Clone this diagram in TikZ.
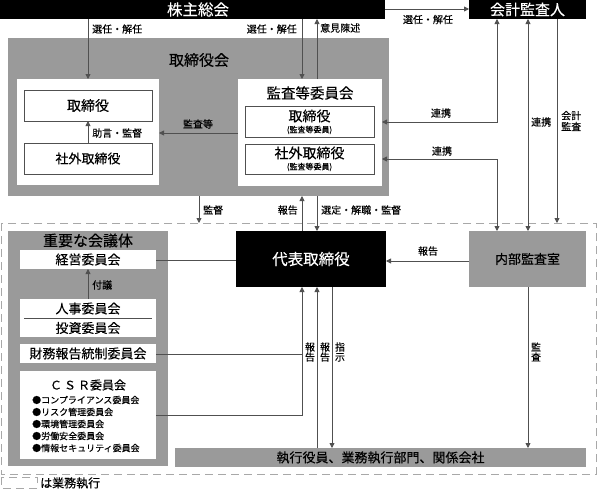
\documentclass[tikz,border=0pt]{standalone}
\usepackage{fontspec}
\setmainfont{Noto Sans CJK JP}[FakeBold=0.25]
\usetikzlibrary{arrows.meta}
\definecolor{gr}{HTML}{9A9A9A}
\definecolor{ln}{HTML}{505050}
\definecolor{dsh}{HTML}{A8A8A8}
\newcommand{\fs}[1]{\fontsize{#1}{#1}\selectfont}
\begin{document}
\begin{tikzpicture}[x=1pt,y=-1pt,
  rbox/.style={anchor=north west,inner sep=0pt,outer sep=0pt},
  blk/.style={rbox,fill=black,text=white},
  gbox/.style={rbox,fill=gr},
  wbox/.style={rbox,fill=white},
  ibox/.style={rbox,fill=white,draw=ln,line width=0.7pt},
  tip/.style={-{Triangle[width=5pt,length=5pt]}},
  arr/.style={draw=ln,line width=0.8pt,tip},
  barr/.style={draw=ln,line width=0.8pt,{Triangle[width=5pt,length=5pt]}-{Triangle[width=5pt,length=5pt]}},
  plain/.style={draw=ln,line width=0.8pt},
  lab/.style={font=\fs{10},inner sep=0pt},
  vlab/.style={font=\fs{10},inner sep=0pt,align=center},
  txt/.style={inner sep=0pt}
]
\useasboundingbox (0,0) rectangle (598,490);
\fill[white] (0,0) rectangle (598,490);

% dashed execution area
\draw[dsh,line width=0.9pt,dash pattern=on 8pt off 5pt] (1,223) rectangle (596,474);
\draw[dsh,line width=0.9pt,dash pattern=on 8pt off 5pt] (1,477) rectangle (37,488);
\node[txt,anchor=west,font=\fs{12}] (legend) at (40,483) {は業務執行};

% top row
\node[blk,minimum width=385pt,minimum height=19pt] (sh) at (0,0) {};
\node[txt,text=white,font=\fs{15.5}] (shT) at (198,9.5) {株主総会};
\node[blk,minimum width=117pt,minimum height=19pt,font=\fs{15}] (ac) at (469,0) {会計監査人};

% board
\node[gbox,minimum width=381pt,minimum height=158pt] (bd) at (8,38) {};
\node[txt,font=\fs{15}] (bdT) at (199,60) {取締役会};
\node[wbox,minimum width=142pt,minimum height=106pt] (lw) at (17,79) {};
\node[ibox,minimum width=128pt,minimum height=31pt,font=\fs{14}] (dir) at (24,90) {取締役};
\node[ibox,minimum width=128pt,minimum height=31pt,font=\fs{13}] (odir) at (24,143) {社外取締役};

\node[wbox,minimum width=144pt,minimum height=107pt] (aud) at (238,79) {};
\node[txt,font=\fs{14.5}] (audT) at (310,93) {監査等委員会};
\node[ibox,minimum width=129pt,minimum height=31pt] (audDir) at (245,106) {};
\node[txt,font=\fs{14}] (audDirT) at (309.5,116) {取締役};
\node[txt,font=\fs{8}] (audDirS) at (309.5,130) {(監査等委員)};
\node[ibox,minimum width=129pt,minimum height=30pt] (audOdir) at (245,144) {};
\node[txt,font=\fs{14}] (audOdirT) at (309.5,153) {社外取締役};
\node[txt,font=\fs{8}] (audOdirS) at (309.5,167) {(監査等委員)};

% execution
\node[blk,minimum width=150pt,minimum height=56pt,font=\fs{15.5}] (rep) at (236,231) {代表取締役};
\node[gbox,minimum width=117pt,minimum height=56pt,font=\fs{13}] (ia) at (469,231) {内部監査室};
\node[gbox,minimum width=411pt,minimum height=19pt,font=\fs{13}] (ex) at (175,448) {執行役員、業務執行部門、関係会社};

% meetings
\node[gbox,minimum width=160pt,minimum height=235pt] (mtg) at (8,231) {};
\node[txt,font=\fs{15}] (mtgT) at (88,240.5) {重要な会議体};
\node[wbox,minimum width=136pt,minimum height=19pt,font=\fs{13}] (mgmt) at (20,250) {経営委員会};
\node[wbox,minimum width=136pt,minimum height=38pt] (hr) at (20,299) {};
\node[txt,font=\fs{13}] (hrT) at (88,308.5) {人事委員会};
\node[txt,font=\fs{13}] (invT) at (88,328) {投資委員会};
\draw[ln,line width=0.9pt] (24,318) -- (152,318);
\node[wbox,minimum width=136pt,minimum height=19pt,font=\fs{13}] (fin) at (20,344) {財務報告統制委員会};
\node[wbox,minimum width=136pt,minimum height=88pt] (csr) at (20,371) {};
\node[txt,font=\fs{12}] (csrT) at (88,385) {Ｃ\,Ｓ\,Ｒ委員会};
\node[txt,anchor=west,font=\fs{9}] (c1) at (32,400) {●コンプライアンス委員会};
\node[txt,anchor=west,font=\fs{9}] (c2) at (32,412) {●リスク管理委員会};
\node[txt,anchor=west,font=\fs{9}] (c3) at (32,424) {●環境管理委員会};
\node[txt,anchor=west,font=\fs{9}] (c4) at (32,436) {●労働安全委員会};
\node[txt,anchor=west,font=\fs{9}] (c5) at (32,448) {●情報セキュリティ委員会};

% coordinates for connectors
\coordinate (dashTop1) at (199,223);
\coordinate (dashTop2) at (557,223);

% connectors: top
\draw[arr] (88,19) -- (lw.north -| 88,0);
\node[lab,anchor=west] (l1) at (92,29) {選任・解任};
\draw[arr] (302,19) -- (aud.north -| 302,0);
\node[lab,anchor=east] (l2) at (297,29) {選任・解任};
\draw[arr] (aud.north -| 317,0) -- (317,19);
\node[lab,anchor=west] (l3) at (320,28) {意見陳述};
\draw[arr] (sh.east |- 0,9) -- (ac.west |- 0,9);
\node[lab] (l4) at (428,19.5) {選任・解任};

\draw[arr] (aud.west |- 0,133) -- (lw.east |- 0,133);
\node[lab] (l5) at (198,124) {監査等};
\draw[arr] (odir.north) -- (dir.south);
\node[lab,anchor=west] (l6) at (92,133) {助言・監督};

\draw[barr] (aud.east |- 0,122) -- (497,122) -- (ac.south -| 497,0);
\node[lab] (l7) at (441,113) {連携};
\draw[barr] (aud.east |- 0,159) -- (497,159) -- (ia.north -| 497,0);
\node[lab] (l8) at (442,151) {連携};
\draw[barr] (ac.south -| 528,0) -- (ia.north -| 528,0);
\node[lab,anchor=west] (l9) at (531,122) {連携};
\draw[arr] (ac.south -| 557,0) -- (dashTop2);
\node[vlab,anchor=west] (l10) at (561,121) {会計\\[1pt]監査};

% middle
\draw[arr] (bd.south -| 199,0) -- (dashTop1);
\node[lab,anchor=west] (l11) at (203,210) {監督};
\draw[arr] (rep.north -| 302,0) -- (bd.south -| 302,0);
\node[lab,anchor=east] (l12) at (298,210) {報告};
\draw[arr] (bd.south -| 317,0) -- (rep.north -| 317,0);
\node[lab,anchor=west] (l13) at (321,210) {選定・解職・監督};
\draw[arr] (ia.west |- 0,261) -- (rep.east |- 0,261);
\node[lab] (l14) at (428,251) {報告};
\draw[plain] (mgmt.east |- 0,260) -- (rep.west |- 0,260);
\draw[arr] (hr.north) -- (mgmt.south);
\node[lab,anchor=west] (l15) at (92,285) {付議};

% bottom
\draw[plain] (fin.east |- 0,354) -- (302,354);
\draw[arr] (csr.east |- 0,415) -- (302,415) -- (rep.south -| 302,0);
\node[vlab] (l16) at (310,352) {報\\告};
\draw[arr] (ex.north -| 317,0) -- (rep.south -| 317,0);
\node[vlab] (l17) at (325,352) {報\\告};
\draw[arr] (rep.south -| 332,0) -- (ex.north -| 332,0);
\node[vlab] (l18) at (340,352) {指\\示};
\draw[arr] (ia.south -| 528,0) -- (ex.north -| 528,0);
\node[vlab] (l19) at (536,352) {監\\査};
\end{tikzpicture}
\end{document}
